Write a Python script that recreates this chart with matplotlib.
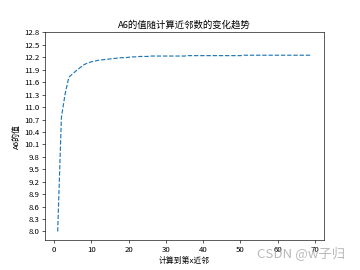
import numpy as np
import matplotlib
matplotlib.use("Agg")
import matplotlib.pyplot as plt

plt.rcParams['font.family'] = ['Noto Sans CJK SC', 'DejaVu Sans']
plt.rcParams['axes.unicode_minus'] = False

# 近邻数 1..69
k_list = list(range(1, 70))
a6_values = [8.00, 10.75, 11.32, 11.72, 11.80, 11.88, 11.95, 12.02, 12.06, 12.09,
             12.11, 12.13, 12.14, 12.15, 12.16, 12.17, 12.18, 12.19, 12.19, 12.20,
             12.21, 12.21, 12.22, 12.22, 12.22, 12.23, 12.23, 12.23, 12.23, 12.23,
             12.23, 12.23, 12.23, 12.23, 12.23, 12.24, 12.24, 12.24, 12.24, 12.24,
             12.24, 12.24, 12.24, 12.24, 12.24, 12.24, 12.24, 12.24, 12.24, 12.24,
             12.25, 12.25, 12.25, 12.25, 12.25, 12.25, 12.25, 12.25, 12.25, 12.25,
             12.25, 12.25, 12.25, 12.25, 12.25, 12.25, 12.25, 12.25, 12.25]
y_ticks = np.arange(8.0, 12.81, 0.3)

fig = plt.figure(figsize=(6.4, 4.8), dpi=56.25)
plt.plot(k_list, a6_values, '--')
plt.yticks(y_ticks, [f"{v:.1f}" for v in y_ticks])
plt.title('A6的值随计算近邻数的变化趋势')
plt.xlabel('计算到第x近邻')
plt.ylabel('A6的值')

# 水印
fig.text(0.958, 0.063, 'CSDN @w子归', ha='right', va='center',
         fontsize=17, color='#a8a8a8', alpha=0.8)

plt.savefig('out.png')
